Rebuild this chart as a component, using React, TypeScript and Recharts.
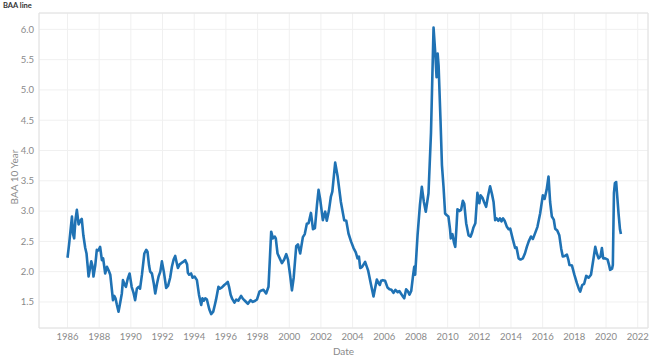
import React from "react";
import { LineChart, Line, XAxis, YAxis, CartesianGrid, ReferenceLine, Label } from "recharts";

const dates: number[] = [
  1986.0, 1986.1, 1986.28, 1986.35, 1986.42, 1986.5, 1986.59, 1986.7, 1986.8, 1986.9,
  1987.0, 1987.12, 1987.2, 1987.27, 1987.33, 1987.42, 1987.5, 1987.57, 1987.64, 1987.75,
  1987.85, 1987.95, 1988.06, 1988.17, 1988.25, 1988.38, 1988.49, 1988.6, 1988.7, 1988.87,
  1988.95, 1989.03, 1989.12, 1989.22, 1989.32, 1989.43, 1989.5, 1989.62, 1989.69, 1989.8,
  1989.92, 1990.05, 1990.17, 1990.27, 1990.38, 1990.49, 1990.58, 1990.7, 1990.85, 1990.97,
  1991.05, 1991.15, 1991.22, 1991.33, 1991.45, 1991.54, 1991.65, 1991.75, 1991.86, 1991.96,
  1992.08, 1992.23, 1992.35, 1992.48, 1992.59, 1992.7, 1992.8, 1992.9, 1992.97, 1993.08,
  1993.18, 1993.3, 1993.43, 1993.55, 1993.6, 1993.68, 1993.8, 1993.9, 1994.02, 1994.17,
  1994.3, 1994.44, 1994.52, 1994.6, 1994.7, 1994.8, 1994.95, 1995.07, 1995.2, 1995.3,
  1995.37, 1995.53, 1995.62, 1995.75, 1995.9, 1996.0, 1996.12, 1996.2, 1996.3, 1996.4,
  1996.54, 1996.65, 1996.78, 1996.96, 1997.08, 1997.2, 1997.39, 1997.55, 1997.7, 1997.85,
  1997.96, 1998.12, 1998.25, 1998.37, 1998.54, 1998.69, 1998.86, 1998.97, 1999.08, 1999.15,
  1999.26, 1999.4, 1999.54, 1999.68, 1999.81, 1999.92, 2000.05, 2000.17, 2000.28, 2000.44,
  2000.55, 2000.69, 2000.86, 2000.98, 2001.11, 2001.22, 2001.37, 2001.5, 2001.62, 2001.75,
  2001.85, 2001.95, 2002.12, 2002.27, 2002.37, 2002.5, 2002.63, 2002.72, 2002.9, 2003.05,
  2003.26, 2003.47, 2003.6, 2003.74, 2003.9, 2004.06, 2004.2, 2004.31, 2004.4, 2004.48,
  2004.6, 2004.79, 2004.9, 2004.98, 2005.15, 2005.32, 2005.4, 2005.53, 2005.62, 2005.72,
  2005.8, 2005.91, 2006.05, 2006.2, 2006.33, 2006.45, 2006.58, 2006.7, 2006.85, 2006.95,
  2007.05, 2007.15, 2007.26, 2007.38, 2007.48, 2007.59, 2007.7, 2007.81, 2007.89, 2007.95,
  2008.1, 2008.25, 2008.37, 2008.5, 2008.62, 2008.79, 2008.95, 2009.11, 2009.22, 2009.3,
  2009.37, 2009.43, 2009.55, 2009.64, 2009.74, 2009.84, 2009.95, 2010.05, 2010.15, 2010.2,
  2010.3, 2010.4, 2010.48, 2010.55, 2010.62, 2010.75, 2010.85, 2010.96, 2011.05, 2011.17,
  2011.32, 2011.45, 2011.55, 2011.63, 2011.75, 2011.88, 2012.0, 2012.08, 2012.2, 2012.3,
  2012.43, 2012.55, 2012.68, 2012.8, 2012.9, 2013.0, 2013.1, 2013.2, 2013.3, 2013.4,
  2013.5, 2013.6, 2013.74, 2013.85, 2013.95, 2014.1, 2014.26, 2014.35, 2014.48, 2014.6,
  2014.75, 2014.88, 2015.0, 2015.12, 2015.26, 2015.38, 2015.5, 2015.67, 2015.84, 2016.01,
  2016.12, 2016.25, 2016.37, 2016.47, 2016.58, 2016.7, 2016.79, 2016.92, 2017.05, 2017.17,
  2017.27, 2017.4, 2017.53, 2017.62, 2017.69, 2017.85, 2018.0, 2018.16, 2018.28, 2018.37,
  2018.5, 2018.62, 2018.75, 2018.9, 2019.05, 2019.2, 2019.32, 2019.42, 2019.53, 2019.65,
  2019.74, 2019.82, 2019.95, 2020.1, 2020.2, 2020.26, 2020.38, 2020.43, 2020.5, 2020.56,
  2020.64, 2020.72, 2020.79, 2020.88, 2020.94,
];

const baa10y: number[] = [
  2.23, 2.45, 2.91, 2.62, 2.55, 2.85, 3.02, 2.78, 2.84, 2.87,
  2.6, 2.39, 2.3, 2.1, 1.92, 2.05, 2.17, 2.1, 1.92, 2.1,
  2.36, 2.35, 2.41, 2.19, 2.22, 1.97, 2.08, 2.02, 1.95, 1.53,
  1.6, 1.56, 1.45, 1.34, 1.48, 1.64, 1.86, 1.78, 1.75, 1.88,
  1.97, 1.75, 1.65, 1.53, 1.72, 1.75, 1.72, 1.95, 2.3, 2.36,
  2.33, 2.1, 2.0, 1.97, 1.8, 1.64, 1.8, 1.92, 2.0, 2.17,
  2.0, 1.73, 1.77, 1.9, 2.08, 2.2, 2.26, 2.14, 2.06, 2.12,
  2.14, 2.16, 2.19, 2.12, 1.98, 1.95, 1.97, 1.9, 1.92, 1.86,
  1.62, 1.45, 1.56, 1.52, 1.56, 1.54, 1.38, 1.3, 1.34, 1.45,
  1.53, 1.75, 1.72, 1.74, 1.78, 1.8, 1.83, 1.75, 1.62, 1.55,
  1.49, 1.54, 1.52, 1.6, 1.55, 1.52, 1.47, 1.53, 1.5, 1.52,
  1.54, 1.67, 1.69, 1.7, 1.64, 1.75, 2.66, 2.55, 2.58, 2.55,
  2.3, 2.22, 2.14, 2.2, 2.29, 2.2, 1.95, 1.69, 1.9, 2.42,
  2.45, 2.3, 2.57, 2.62, 2.79, 2.8, 2.97, 2.7, 2.72, 3.1,
  3.35, 3.2, 2.85, 2.99, 2.84, 3.0, 3.24, 3.32, 3.8, 3.58,
  3.15, 2.85, 2.84, 2.63, 2.5, 2.39, 2.32, 2.22, 2.25, 2.06,
  2.08, 2.16, 2.08, 2.02, 1.8, 1.59, 1.7, 1.87, 1.82, 1.78,
  1.85, 1.86, 1.85, 1.74, 1.71, 1.7, 1.65, 1.7, 1.66, 1.68,
  1.64, 1.6, 1.56, 1.71, 1.68, 1.62, 1.68, 1.92, 2.08, 1.95,
  2.6, 3.1, 3.4, 3.15, 2.99, 3.29, 4.3, 6.03, 5.6, 5.21,
  5.6, 5.4, 4.5, 3.76, 3.4, 2.96, 2.93, 2.91, 2.7, 2.55,
  2.62, 2.48, 2.41, 2.7, 3.03, 3.0, 3.02, 3.17, 3.12, 2.8,
  2.6, 2.58, 2.65, 2.73, 2.8, 3.3, 3.13, 3.26, 3.22, 3.15,
  3.07, 3.25, 3.41, 3.28, 3.15, 2.85, 2.88, 2.84, 2.88, 2.83,
  2.88, 2.84, 2.74, 2.7, 2.71, 2.55, 2.39, 2.4, 2.22, 2.2,
  2.22, 2.3, 2.41, 2.5, 2.58, 2.54, 2.62, 2.74, 2.96, 3.26,
  3.2, 3.35, 3.57, 3.15, 2.91, 2.86, 2.71, 2.68, 2.6, 2.38,
  2.25, 2.26, 2.28, 2.2, 2.11, 2.1, 1.95, 1.81, 1.72, 1.67,
  1.78, 1.8, 1.93, 1.9, 1.95, 2.2, 2.41, 2.3, 2.22, 2.25,
  2.39, 2.22, 2.22, 2.2, 2.1, 2.03, 2.05, 2.11, 3.3, 3.46,
  3.48, 3.2, 2.96, 2.7, 2.62,
];

const xTicks: number[] = [1986, 1988, 1990, 1992, 1994, 1996, 1998, 2000, 2002, 2004, 2006, 2008, 2010, 2012, 2014, 2016, 2018, 2020, 2022];
const yTicks: number[] = [1.5, 2.0, 2.5, 3.0, 3.5, 4.0, 4.5, 5.0, 5.5, 6.0];

const chartTitle = "BAA line";
const xLabel = "Date";
const yLabel = "BAA 10 Year";

const data = dates.map((d, i) => ({ date: d, value: baa10y[i] }));

const X_MIN = 1984.2;
const X_MAX = 2022.65;
const Y_MIN = 1.07;
const Y_MAX = 6.27;

const FONT = "Lato, 'Open Sans', sans-serif";
const tickStyle = { fontFamily: FONT, fontSize: 9.5, fill: "#8a8a8a" };

export default function App() {
  return (
    <div style={{ position: "absolute", left: 0, top: 0, width: 665, height: 360, background: "#fff" }}>
      <div
        style={{
          position: "absolute",
          left: 3,
          top: 1,
          fontFamily: FONT,
          fontSize: 7.5,
          fontWeight: 700,
          color: "#333",
          lineHeight: "10px",
        }}
      >
        {chartTitle}
      </div>
      <LineChart width={665} height={360} data={data} margin={{ top: 13, right: 17, left: 0, bottom: 0 }}>
        <CartesianGrid stroke="#f0f0f0" strokeWidth={1} />
        <XAxis
          dataKey="date"
          type="number"
          domain={[X_MIN, X_MAX]}
          ticks={xTicks}
          allowDataOverflow
          height={32}
          tickSize={0}
          tickMargin={5}
          tickLine={false}
          stroke="#e2e2e2"
          tick={tickStyle}
          interval={0}
        >
          <Label value={xLabel} position="insideBottom" offset={5} style={{ fontFamily: FONT, fontSize: 10, fill: "#8a8a8a" }} />
        </XAxis>
        <YAxis
          type="number"
          domain={[Y_MIN, Y_MAX]}
          ticks={yTicks}
          allowDataOverflow
          width={39}
          tickSize={0}
          tickMargin={5}
          tickLine={false}
          stroke="#e2e2e2"
          tick={tickStyle}
          tickFormatter={(v: number) => v.toFixed(1)}
          interval={0}
        >
          <Label
            content={() => (
              <text
                x={14}
                y={177}
                transform="rotate(-90 14 177)"
                textAnchor="middle"
                dominantBaseline="central"
                style={{ fontFamily: FONT, fontSize: 10, fill: "#8a8a8a" }}
              >
                {yLabel}
              </text>
            )}
          />
        </YAxis>
        <ReferenceLine y={Y_MAX} stroke="#e2e2e2" />
        <ReferenceLine x={X_MAX} stroke="#e2e2e2" />
        <Line
          type="linear"
          dataKey="value"
          stroke="#1f72b4"
          strokeWidth={2.6}
          dot={false}
          isAnimationActive={false}
          strokeLinejoin="round"
        />
      </LineChart>
    </div>
  );
}
